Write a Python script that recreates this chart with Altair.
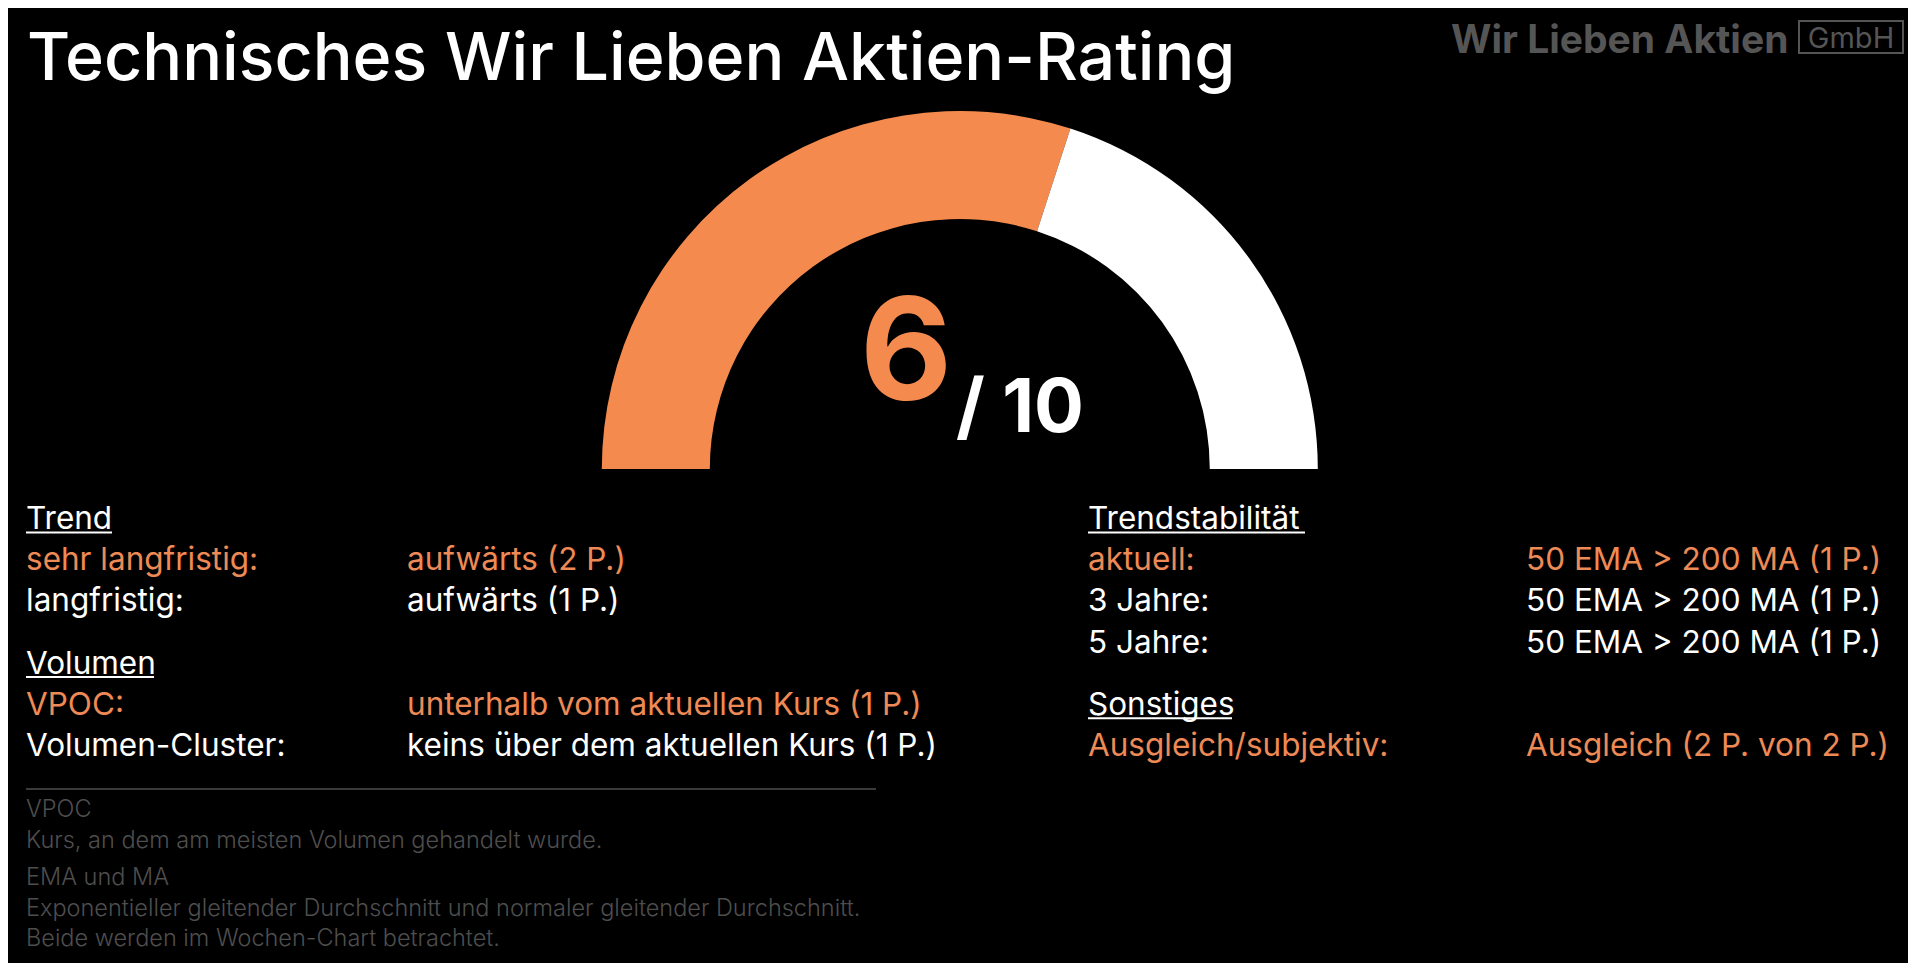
import math
import altair as alt
import pandas as pd

# ---------------- data ----------------
TITLE = "Technisches Wir Lieben Aktien-Rating"
BRAND = "Wir Lieben Aktien"
BRAND_SUFFIX = "GmbH"

SCORE = 6
MAX_SCORE = 10

left_headers = ["Trend", "Volumen"]
trend_labels = ["sehr langfristig:", "langfristig:"]
trend_values = ["aufwärts (2 P.)", "aufwärts (1 P.)"]
trend_highlight = [True, False]
volumen_labels = ["VPOC:", "Volumen-Cluster:"]
volumen_values = ["unterhalb vom aktuellen Kurs (1 P.)", "keins über dem aktuellen Kurs (1 P.)"]
volumen_highlight = [True, False]

right_headers = ["Trendstabilität", "Sonstiges"]
stab_labels = ["aktuell:", "3 Jahre:", "5 Jahre:"]
stab_values = ["50 EMA > 200 MA (1 P.)", "50 EMA > 200 MA (1 P.)", "50 EMA > 200 MA (1 P.)"]
stab_highlight = [True, False, False]
sonst_labels = ["Ausgleich/subjektiv:"]
sonst_values = ["Ausgleich (2 P. von 2 P.)"]
sonst_highlight = [True]

note_titles = ["VPOC", "EMA und MA"]
note_texts = [
    ["Kurs, an dem am meisten Volumen gehandelt wurde."],
    ["Exponentieller gleitender Durchschnitt und normaler gleitender Durchschnitt.",
     "Beide werden im Wochen-Chart betrachtet."],
]

# ---------------- style / layout ----------------
W, H = 1900, 955
FONT = "Inter"
ORANGE = "#F48A4E"
ORANGE_TXT = "#EE8A55"
WHITE = "#FFFFFF"
LOGO_GRAY = "#555555"
NOTE_GRAY = "#4E4E4E"
SEP_GRAY = "#3A3A3A"

X_LEFT_LABEL, X_LEFT_VALUE = 18, 399
X_RIGHT_LABEL, X_RIGHT_VALUE = 1080, 1518
ROW_TOP, ROW_PITCH, SECTION_GAP = 521, 41.2, 21
BODY_SIZE = 31.5

xs = alt.Scale(domain=[0, W], range=[0, W])
ys = alt.Scale(domain=[0, H], reverse=True)


def build_column(headers, sections, x_label, x_value):
    rows, heads = [], []
    i = 0
    for s, (hdr, (labels, values, hl)) in enumerate(zip(headers, sections)):
        y = ROW_TOP + ROW_PITCH * i + SECTION_GAP * s
        heads.append({"text": hdr, "x": x_label, "y": y})
        i += 1
        for lab, val, h in zip(labels, values, hl):
            y = ROW_TOP + ROW_PITCH * i + SECTION_GAP * s
            col = ORANGE_TXT if h else WHITE
            rows.append({"text": lab, "x": x_label, "y": y, "c": col})
            rows.append({"text": val, "x": x_value, "y": y, "c": col})
            i += 1
    return heads, rows


lh, lr = build_column(left_headers,
                      [(trend_labels, trend_values, trend_highlight),
                       (volumen_labels, volumen_values, volumen_highlight)],
                      X_LEFT_LABEL, X_LEFT_VALUE)
rh, rr = build_column(right_headers,
                      [(stab_labels, stab_values, stab_highlight),
                       (sonst_labels, sonst_values, sonst_highlight)],
                      X_RIGHT_LABEL, X_RIGHT_VALUE)
heads_df = pd.DataFrame(lh + rh)
rows_df = pd.DataFrame(lr + rr)

# underline widths for headers (style, matched to header text length)
UNDERLINE_W = {"Trend": 86, "Volumen": 128, "Trendstabilität": 217, "Sonstiges": 144}
ul_df = heads_df.copy()
ul_df["x2"] = [r.x + UNDERLINE_W[r.text] for r in ul_df.itertuples()]
ul_df["y"] = ul_df["y"] + 3.5


def text_layer(df, size, weight, color=None, align="left", font=FONT):
    enc = dict(
        x=alt.X("x:Q", scale=xs, axis=None),
        y=alt.Y("y:Q", scale=ys, axis=None),
        text="text:N",
    )
    if color is None:
        enc["color"] = alt.Color("c:N", scale=None, legend=None)
        mk = alt.Chart(df).mark_text(font=font, fontSize=size, fontWeight=weight,
                                     align=align, baseline="alphabetic")
    else:
        mk = alt.Chart(df).mark_text(font=font, fontSize=size, fontWeight=weight,
                                     align=align, baseline="alphabetic", color=color)
    return mk.encode(**enc)


# title
title_layer = text_layer(pd.DataFrame([{"text": TITLE, "x": 19, "y": 71.5}]), 66.3, 500, WHITE)

# logo
logo_layer = text_layer(pd.DataFrame([{"text": BRAND, "x": 1443, "y": 45}]), 39, 700, LOGO_GRAY)
logo_sfx = text_layer(pd.DataFrame([{"text": BRAND_SUFFIX, "x": 1843, "y": 40}]), 29, 400,
                      LOGO_GRAY, align="center")
logo_box = alt.Chart(pd.DataFrame([{"x": 1791, "x2": 1895, "y": 13, "y2": 45}])).mark_rect(
    fill=None, filled=False, stroke=LOGO_GRAY, strokeWidth=2
).encode(x=alt.X("x:Q", scale=xs, axis=None), x2="x2:Q",
         y=alt.Y("y:Q", scale=ys, axis=None), y2="y2:Q")

# gauge
gauge_df = pd.DataFrame({
    "part": ["score", "rest"],
    "value": [SCORE, MAX_SCORE - SCORE],
    "ord": [0, 1],
})
gauge = alt.Chart(gauge_df).mark_arc(radius=358, radius2=250).encode(
    theta=alt.Theta("value:Q", stack=True,
                    scale=alt.Scale(domain=[0, MAX_SCORE],
                                    range=[1.5 * math.pi, 2.5 * math.pi])),
    color=alt.Color("part:N", scale=alt.Scale(domain=["score", "rest"], range=[ORANGE, WHITE]),
                    legend=None),
    order=alt.Order("ord:Q"),
    x=alt.value(951.8),
    y=alt.value(461),
)

score_layer = text_layer(pd.DataFrame([{"text": str(SCORE), "x": 898, "y": 392}]), 142, 700,
                         ORANGE, align="center")
max_layer = text_layer(pd.DataFrame([{"text": f"/ {MAX_SCORE}", "x": 1012, "y": 424}]), 74, 700,
                       WHITE, align="center")

# sections
heads_layer = text_layer(heads_df, BODY_SIZE, 400, WHITE)
underline = alt.Chart(ul_df).mark_rule(color=WHITE, strokeWidth=2).encode(
    x=alt.X("x:Q", scale=xs, axis=None), x2="x2:Q",
    y=alt.Y("y:Q", scale=ys, axis=None))
rows_layer = text_layer(rows_df, BODY_SIZE, 400)

# separator
sep = alt.Chart(pd.DataFrame([{"x": 18, "x2": 868, "y": 781}])).mark_rule(
    color=SEP_GRAY, strokeWidth=2
).encode(x=alt.X("x:Q", scale=xs, axis=None), x2="x2:Q",
         y=alt.Y("y:Q", scale=ys, axis=None))

# footnotes
note_rows = []
ny = [808.5, 877]
for t, lines, y0 in zip(note_titles, note_texts, ny):
    note_rows.append({"text": t, "x": 18, "y": y0})
    for k, ln in enumerate(lines):
        note_rows.append({"text": ln, "x": 18, "y": y0 + 31 + 30 * k})
notes_layer = text_layer(pd.DataFrame(note_rows), 23.5, 300, NOTE_GRAY)

chart = alt.layer(
    gauge, title_layer, logo_layer, logo_sfx, logo_box,
    score_layer, max_layer, heads_layer, underline, rows_layer, sep, notes_layer
).properties(
    width=W, height=H, padding=0,
    autosize=alt.AutoSizeParams(type="fit", contains="padding"),
).configure(background="#000000").configure_view(stroke=None)

chart.save("out.html", embed_options={"renderer": "svg", "actions": False})
